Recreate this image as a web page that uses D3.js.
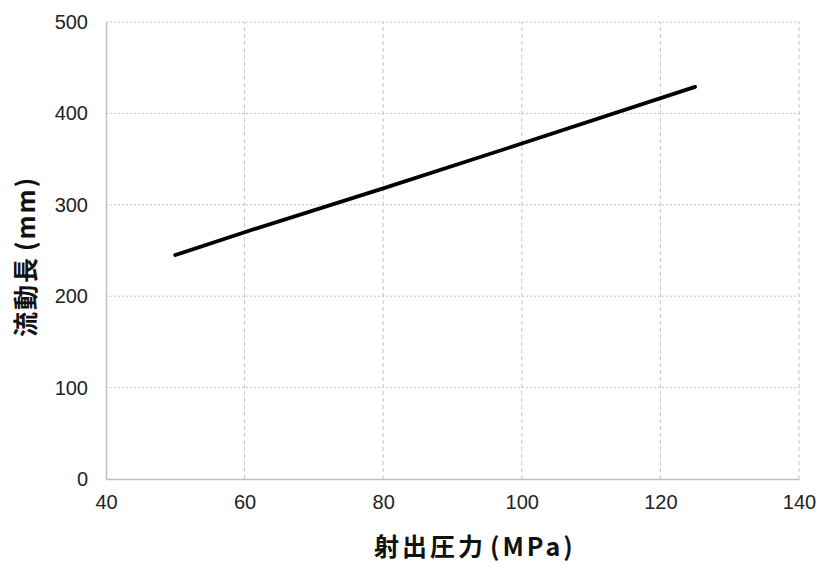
<!DOCTYPE html>
<html>
<head>
<meta charset="utf-8">
<script src="https://cdn.jsdelivr.net/npm/d3@7"></script>
<style>
  body { margin: 0; background: #fff; }
  .tick text { font-family: "Liberation Sans", Arial, sans-serif; font-size: 20px; fill: #222; }
  .title { font-family: "Noto Sans CJK JP", sans-serif; font-weight: bold; fill: #111; }
</style>
</head>
<body>
<div id="chart"></div>
<script>
// data
var pressure = [50, 60, 80, 100, 125];       // MPa
var flowLength = [245, 270, 318, 367, 429];  // mm
var xTicks = [40, 60, 80, 100, 120, 140];
var yTicks = [0, 100, 200, 300, 400, 500];

var w = 818, h = 563;
var margin = {top: 22, right: 19, bottom: 84, left: 106};

var svg = d3.select("#chart")
    .append("svg")
    .attr("width", w)
    .attr("height", h);

var xScale = d3.scaleLinear()
    .domain([40, 140])
    .range([margin.left, w - margin.right]);
var yScale = d3.scaleLinear()
    .domain([0, 500])
    .range([h - margin.bottom, margin.top]);

// gridlines: vertical dashed, horizontal dotted
svg.append("g")
    .selectAll("line")
    .data(xTicks.slice(1))
    .enter()
    .append("line")
    .attr("x1", function(d){ return xScale(d); })
    .attr("x2", function(d){ return xScale(d); })
    .attr("y1", yScale(0))
    .attr("y2", yScale(500))
    .attr("stroke", "#c4c4c4")
    .attr("stroke-width", 1)
    .attr("stroke-dasharray", "4,3");

svg.append("g")
    .selectAll("line")
    .data(yTicks.slice(1))
    .enter()
    .append("line")
    .attr("x1", xScale(40))
    .attr("x2", xScale(140))
    .attr("y1", function(d){ return yScale(d); })
    .attr("y2", function(d){ return yScale(d); })
    .attr("stroke", "#c4c4c4")
    .attr("stroke-width", 1)
    .attr("stroke-dasharray", "2,2");

// axes
var xAxis = d3.axisBottom(xScale).tickValues(xTicks).tickSize(0).tickPadding(16);
var yAxis = d3.axisLeft(yScale).tickValues(yTicks).tickSize(0).tickPadding(18);

var xa = svg.append("g")
    .attr("transform", "translate(0," + yScale(0) + ")")
    .call(xAxis);
xa.select(".domain").attr("stroke", "#c0c0c0").attr("stroke-width", 1.5);

var ya = svg.append("g")
    .attr("transform", "translate(" + xScale(40) + ",0)")
    .call(yAxis);
ya.select(".domain").attr("stroke", "#c0c0c0").attr("stroke-width", 1.5);

// the line
var line = d3.line()
    .x(function(d, i){ return xScale(pressure[i]); })
    .y(function(d){ return yScale(d); });

svg.append("path")
    .datum(flowLength)
    .attr("d", line)
    .attr("fill", "none")
    .attr("stroke", "#000")
    .attr("stroke-width", 3.8)
    .attr("stroke-linecap", "round");

// axis titles
var xt = svg.append("text")
    .attr("class", "title")
    .attr("x", 374)
    .attr("y", 556)
    .style("font-size", "25px")
    .style("letter-spacing", "3px");
xt.append("tspan").text("射出圧力");
xt.append("tspan").attr("dx", 4).text("(MPa)");

var yt = svg.append("text")
    .attr("class", "title")
    .attr("transform", "translate(35,337) rotate(-90)")
    .style("font-size", "25px")
    .style("letter-spacing", "2px");
yt.append("tspan").text("流動長");
yt.append("tspan").attr("dx", 5).text("(mm)");
</script>
</body>
</html>
